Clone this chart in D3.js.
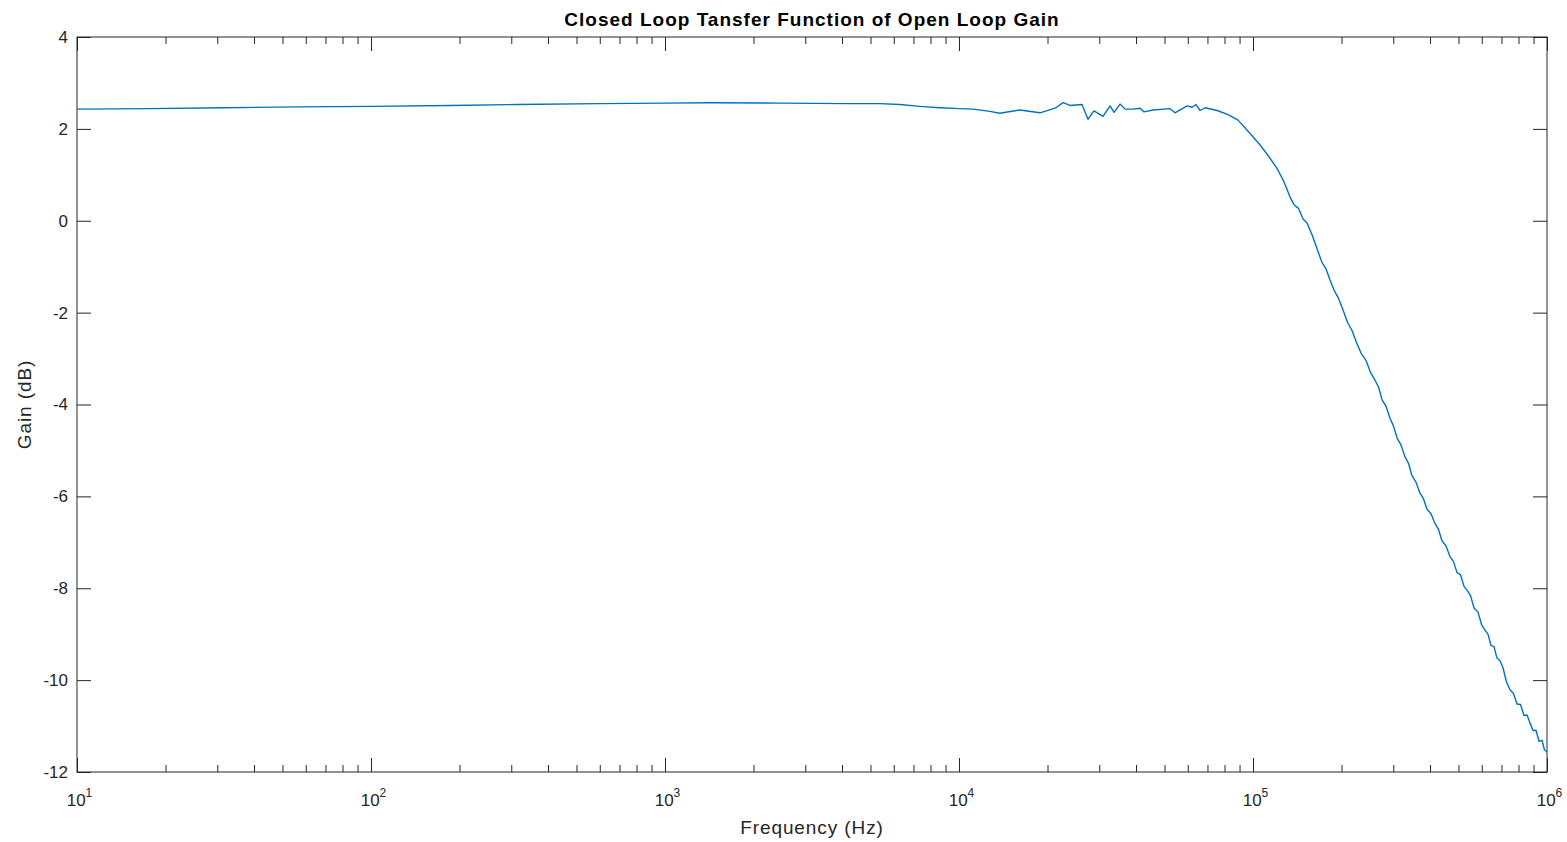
<!DOCTYPE html>
<html>
<head>
<meta charset="utf-8">
<script src="https://cdn.jsdelivr.net/npm/d3@7/dist/d3.min.js"></script>
<style>
  html, body { margin: 0; padding: 0; background: #fff; }
  svg { display: block; font-family: "Liberation Sans", Arial, Helvetica, sans-serif; }
</style>
</head>
<body>
<svg id="chart" width="1567" height="842"></svg>
<script>
// ---- Data ----
const titleText = "Closed Loop Tansfer Function of Open Loop Gain";
const xLabelText = "Frequency (Hz)";
const yLabelText = "Gain (dB)";

const xMajorTicks = [1e1, 1e2, 1e3, 1e4, 1e5, 1e6];
const xMajorExponents = ["1", "2", "3", "4", "5", "6"];
const yTicks = [-12, -10, -8, -6, -4, -2, 0, 2, 4];
const yTickLabels = ["-12", "-10", "-8", "-6", "-4", "-2", "0", "2", "4"];

const frequencyHz = [
  10, 17.7, 31.6, 57.4, 100, 186, 314, 601, 1000, 1422, 2460, 4255, 5382, 6295, 7360, 8610, 10000,
  11160, 12740, 13770, 16100, 18860, 21230, 22600, 23870, 26200, 27470, 28780, 30890, 32650, 33690,
  35300, 36720, 39090, 41270, 42580, 45710, 52240, 54310, 59700, 62090, 64020, 66060, 68710, 75510,
  82270, 88960, 97750, 105700, 114300, 120700, 126990, 133600, 137900, 142800, 148000, 152700,
  159400, 166400, 171700, 177200, 182800, 188600, 195400, 202300, 209600, 217100, 225700, 233900,
  242300, 250900, 260000, 267300, 274800, 283500, 292400, 300600, 309000, 318700, 328900, 338000,
  347400, 358400, 369900, 380100, 390700, 403100, 415900, 427500, 439500, 453500, 467700, 480800,
  494300, 508100, 522200, 534600, 549400, 564700, 582600, 598800, 615500, 630000, 644900, 660200,
  675800, 692200, 708500, 728200, 748200, 769100, 790700, 812800, 835300, 855100, 875000, 896500,
  917600, 939200, 961600, 980600, 1000000
];

const gainDb = [
  2.43, 2.44, 2.46, 2.48, 2.49, 2.51, 2.53, 2.55, 2.56, 2.57, 2.56, 2.55, 2.55, 2.53, 2.49, 2.46, 2.44,
  2.43, 2.38, 2.34, 2.41, 2.35, 2.45, 2.57, 2.51, 2.53, 2.21, 2.39, 2.27, 2.50, 2.36,
  2.54, 2.43, 2.43, 2.45, 2.37, 2.41, 2.44, 2.35, 2.50, 2.47, 2.53, 2.40, 2.46, 2.40,
  2.31, 2.19, 1.90, 1.65, 1.36, 1.14, 0.87, 0.52, 0.35, 0.27, 0.04, -0.05,
  -0.33, -0.67, -0.91, -1.05, -1.29, -1.51, -1.69, -1.94, -2.21, -2.39, -2.67, -2.90,
  -3.04, -3.30, -3.47, -3.62, -3.90, -4.04, -4.30, -4.47, -4.73, -4.88, -5.14, -5.28,
  -5.55, -5.69, -5.93, -6.05, -6.28, -6.38, -6.59, -6.72, -6.97, -7.08, -7.31, -7.42,
  -7.66, -7.71, -7.96, -8.04, -8.16, -8.43, -8.52, -8.79, -8.91, -9.00, -9.25, -9.27,
  -9.52, -9.58, -9.73, -10.04, -10.21, -10.29, -10.52, -10.53, -10.77, -10.76, -10.93, -11.10,
  -11.09, -11.33, -11.31, -11.52, -11.56
];

// ---- Layout ----
const svg = d3.select("#chart");
const plot = { left: 77, right: 1547, top: 37, bottom: 772 };
const axisColor = "#262626";
const lineColor = "#0072BD";
const majorLen = 14, minorLen = 7;

const x = d3.scaleLog().domain([1e1, 1e6]).range([plot.left, plot.right]);
const y = d3.scaleLinear().domain([-12, 4]).range([plot.bottom, plot.top]);

// minor tick values (2..9 per decade)
const xMinorTicks = [];
for (let d = 1; d < 6; d++) for (let m = 2; m <= 9; m++) xMinorTicks.push(m * Math.pow(10, d));

function styleAxis(g) {
  g.select(".domain").remove();
  g.selectAll(".tick line").attr("stroke", axisColor).attr("stroke-width", 1);
}

// bottom minor & major (inward)
svg.append("g").attr("transform", `translate(0,${plot.bottom})`)
  .call(d3.axisBottom(x).tickValues(xMinorTicks).tickSize(-minorLen).tickFormat(""))
  .call(styleAxis);
const xb = svg.append("g").attr("transform", `translate(0,${plot.bottom})`)
  .call(d3.axisBottom(x).tickValues(xMajorTicks).tickSize(-majorLen).tickFormat(""))
  .call(styleAxis);
// top minor & major (inward)
svg.append("g").attr("transform", `translate(0,${plot.top})`)
  .call(d3.axisTop(x).tickValues(xMinorTicks).tickSize(-minorLen).tickFormat(""))
  .call(styleAxis);
svg.append("g").attr("transform", `translate(0,${plot.top})`)
  .call(d3.axisTop(x).tickValues(xMajorTicks).tickSize(-majorLen).tickFormat(""))
  .call(styleAxis);

// x tick labels with superscripts
xb.selectAll(".tick").each(function(d, i) {
  const t = d3.select(this).append("text")
    .attr("y", 34)
    .attr("x", 2)
    .attr("text-anchor", "middle")
    .attr("fill", axisColor)
    .style("font-size", "17px");
  t.append("tspan").text("10");
  t.append("tspan").attr("dy", -9).style("font-size", "12px").text(xMajorExponents[i]);
});

// left & right y ticks (inward)
svg.append("g").attr("transform", `translate(${plot.left},0)`)
  .call(d3.axisLeft(y).tickValues(yTicks).tickSize(-majorLen).tickFormat((d, i) => yTickLabels[i]))
  .call(styleAxis)
  .call(g => g.selectAll("text").attr("fill", axisColor).style("font-size", "17px").attr("x", -9));
svg.append("g").attr("transform", `translate(${plot.right},0)`)
  .call(d3.axisRight(y).tickValues(yTicks).tickSize(-majorLen).tickFormat(""))
  .call(styleAxis);

// frame
svg.append("rect")
  .attr("x", plot.left).attr("y", plot.top)
  .attr("width", plot.right - plot.left).attr("height", plot.bottom - plot.top)
  .attr("fill", "none").attr("stroke", axisColor).attr("stroke-width", 1);

// data line
const data = frequencyHz.map((f, i) => ({ f, g: gainDb[i] }));
svg.append("path")
  .datum(data)
  .attr("fill", "none")
  .attr("stroke", lineColor)
  .attr("stroke-width", 1.4)
  .attr("stroke-linejoin", "round")
  .attr("d", d3.line().x(d => x(d.f)).y(d => y(d.g)));

// title
svg.append("text")
  .attr("x", (plot.left + plot.right) / 2).attr("y", 26)
  .attr("text-anchor", "middle")
  .attr("fill", "#000")
  .style("font-size", "19px").style("font-weight", "bold").style("letter-spacing", "1px")
  .text(titleText);

// axis labels
svg.append("text")
  .attr("x", (plot.left + plot.right) / 2).attr("y", 834)
  .attr("text-anchor", "middle")
  .attr("fill", axisColor)
  .style("font-size", "19px").style("letter-spacing", "0.9px")
  .text(xLabelText);

svg.append("text")
  .attr("transform", `translate(31,${(plot.top + plot.bottom) / 2}) rotate(-90)`)
  .attr("text-anchor", "middle")
  .attr("fill", axisColor)
  .style("font-size", "19px").style("letter-spacing", "0.9px")
  .text(yLabelText);
</script>
</body>
</html>
